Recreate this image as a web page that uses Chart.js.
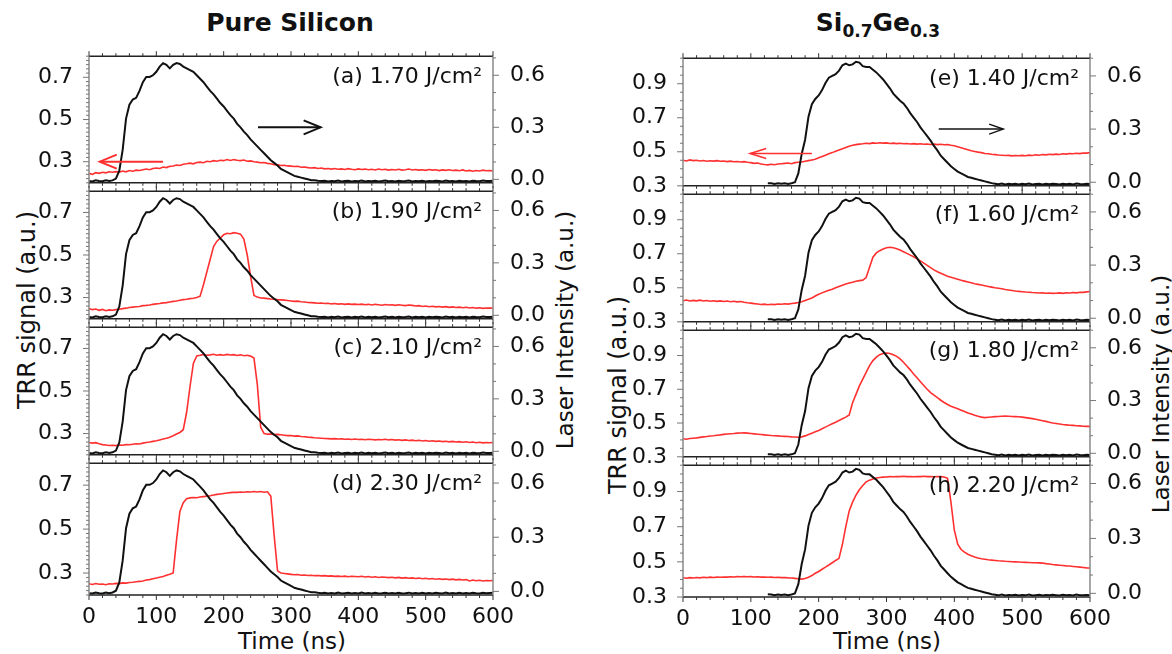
<!DOCTYPE html>
<html>
<head>
<meta charset="utf-8">
<script src="https://cdn.jsdelivr.net/npm/chart.js@4.4.1/dist/chart.umd.min.js"></script>
<style>
  html, body { margin: 0; padding: 0; background: #fff; }
  #fig { position: relative; width: 1172px; height: 654px; overflow: hidden;
         font-family: "DejaVu Sans", sans-serif; color: #111; }
  .panel { position: absolute; }
  .lbl { position: absolute; white-space: nowrap; transform: translate(-50%, -50%); line-height: 1; }
  .rot { transform: translate(-50%, -50%) rotate(-90deg); }
  .title { font-weight: bold; font-size: 25px; }
  .title sub { font-size: 17px; vertical-align: -6px; line-height: 0; }
  .ax { font-size: 23px; }
</style>
</head>
<body>
<div id="fig">
  <div class="lbl title" style="left:290px;top:22px">Pure Silicon</div>
  <div class="lbl title" style="left:878px;top:22px">Si<sub>0.7</sub>Ge<sub>0.3</sub></div>
  <div class="lbl rot ax" style="left:27px;top:310px;font-size:24px">TRR signal (a.u.)</div>
  <div class="lbl rot ax" style="left:565px;top:330px">Laser Intensity (a.u.)</div>
  <div class="lbl rot ax" style="left:618px;top:395px;font-size:24px">TRR signal (a.u.)</div>
  <div class="lbl rot ax" style="left:1161px;top:394px">Laser Intensity (a.u.)</div>
  <div class="lbl ax" style="left:292px;top:641px">Time (ns)</div>
  <div class="lbl ax" style="left:887px;top:641px">Time (ns)</div>
</div>
<script>
// time axis (ns), 5 ns steps
const timeNs = [
  0, 5, 10, 15, 20, 25, 30, 35, 40, 45,
  50, 55, 60, 65, 70, 75, 80, 85, 90, 95,
  100, 105, 110, 115, 120, 125, 130, 135, 140, 145,
  150, 155, 160, 165, 170, 175, 180, 185, 190, 195,
  200, 205, 210, 215, 220, 225, 230, 235, 240, 245,
  250, 255, 260, 265, 270, 275, 280, 285, 290, 295,
  300, 305, 310, 315, 320, 325, 330, 335, 340, 345,
  350, 355, 360, 365, 370, 375, 380, 385, 390, 395,
  400, 405, 410, 415, 420, 425, 430, 435, 440, 445,
  450, 455, 460, 465, 470, 475, 480, 485, 490, 495,
  500, 505, 510, 515, 520, 525, 530, 535, 540, 545,
  550, 555, 560, 565, 570, 575, 580, 585, 590, 595,
  600
];

// laser pulse (right axis), pure Si panels
const laserSi = [
  -0.010, -0.012, -0.006, -0.010, -0.011, -0.006, -0.010, -0.006, 0.004, 0.050,
  0.170, 0.350, 0.430, 0.460, 0.470, 0.510, 0.560, 0.590, 0.590, 0.600,
  0.620, 0.650, 0.670, 0.660, 0.640, 0.660, 0.670, 0.665, 0.650, 0.640,
  0.630, 0.620, 0.600, 0.580, 0.560, 0.535, 0.510, 0.490, 0.465, 0.440,
  0.420, 0.395, 0.370, 0.350, 0.320, 0.300, 0.275, 0.255, 0.230, 0.210,
  0.190, 0.170, 0.150, 0.130, 0.110, 0.095, 0.080, 0.060, 0.050, 0.040,
  0.030, 0.020, 0.015, 0.010, 0.005, 0.000, -0.005, -0.005, -0.008, -0.010,
  -0.008, -0.012, -0.009, -0.011, -0.007, -0.012, -0.010, -0.008, -0.012, -0.009,
  -0.011, -0.007, -0.012, -0.009, -0.011, -0.008, -0.012, -0.010, -0.007, -0.011,
  -0.009, -0.012, -0.008, -0.011, -0.010, -0.007, -0.012, -0.009, -0.011, -0.008,
  -0.012, -0.009, -0.011, -0.008, -0.010, -0.012, -0.007, -0.011, -0.009, -0.012,
  -0.008, -0.011, -0.009, -0.012, -0.008, -0.010, -0.011, -0.007, -0.010, -0.009,
  -0.008
];

// laser pulse (right axis), SiGe panels - recorded from 125 ns
const laserSiGe = [
  null, null, null, null, null, null, null, null, null, null,
  null, null, null, null, null, null, null, null, null, null,
  null, null, null, null, null, -0.005, -0.006, -0.010, -0.006, -0.009,
  -0.006, -0.010, -0.006, 0.000, 0.050, 0.160, 0.240, 0.370, 0.440, 0.470,
  0.490, 0.520, 0.560, 0.590, 0.600, 0.610, 0.630, 0.660, 0.670, 0.660,
  0.665, 0.680, 0.675, 0.655, 0.650, 0.650, 0.635, 0.620, 0.600, 0.580,
  0.555, 0.530, 0.500, 0.480, 0.460, 0.445, 0.420, 0.390, 0.365, 0.340,
  0.310, 0.285, 0.260, 0.235, 0.205, 0.180, 0.150, 0.130, 0.110, 0.090,
  0.075, 0.060, 0.050, 0.040, 0.030, 0.025, 0.020, 0.015, 0.010, 0.005,
  0.000, -0.005, -0.008, -0.011, -0.007, -0.012, -0.009, -0.011, -0.008, -0.012,
  -0.009, -0.011, -0.007, -0.012, -0.010, -0.008, -0.012, -0.009, -0.011, -0.008,
  -0.010, -0.012, -0.008, -0.011, -0.009, -0.012, -0.007, -0.010, -0.011, -0.009,
  -0.010
];

// TRR signal (left axis)
const trrA = [
  0.245, 0.240, 0.248, 0.245, 0.250, 0.247, 0.252, 0.250, 0.253, 0.250,
  0.256, 0.252, 0.258, 0.255, 0.260, 0.258, 0.262, 0.265, 0.262, 0.268,
  0.270, 0.268, 0.275, 0.272, 0.278, 0.280, 0.284, 0.282, 0.288, 0.290,
  0.293, 0.290, 0.296, 0.298, 0.295, 0.302, 0.300, 0.305, 0.302, 0.307,
  0.305, 0.310, 0.306, 0.310, 0.307, 0.305, 0.308, 0.302, 0.304, 0.300,
  0.298, 0.295, 0.296, 0.292, 0.290, 0.286, 0.285, 0.282, 0.283, 0.280,
  0.279, 0.277, 0.278, 0.274, 0.275, 0.272, 0.270, 0.272, 0.268, 0.270,
  0.266, 0.268, 0.265, 0.268, 0.264, 0.266, 0.263, 0.267, 0.264, 0.262,
  0.266, 0.263, 0.265, 0.262, 0.264, 0.261, 0.265, 0.262, 0.264, 0.260,
  0.263, 0.261, 0.264, 0.260, 0.262, 0.265, 0.261, 0.263, 0.260, 0.262,
  0.259, 0.263, 0.260, 0.262, 0.258, 0.261, 0.259, 0.262, 0.258, 0.260,
  0.257, 0.261, 0.256, 0.259, 0.255, 0.258, 0.256, 0.260, 0.257, 0.258,
  0.256
];
const trrB = [
  0.248, 0.243, 0.246, 0.240, 0.244, 0.238, 0.242, 0.240, 0.243, 0.245,
  0.248, 0.250, 0.253, 0.255, 0.257, 0.258, 0.262, 0.263, 0.265, 0.268,
  0.270, 0.272, 0.275, 0.276, 0.279, 0.282, 0.284, 0.287, 0.290, 0.292,
  0.295, 0.297, 0.300, 0.306, 0.360, 0.420, 0.480, 0.540, 0.565, 0.580,
  0.595, 0.602, 0.600, 0.605, 0.602, 0.598, 0.575, 0.500, 0.400, 0.310,
  0.302, 0.298, 0.297, 0.295, 0.293, 0.292, 0.290, 0.289, 0.288, 0.286,
  0.284, 0.282, 0.283, 0.280, 0.279, 0.277, 0.276, 0.275, 0.273, 0.274,
  0.272, 0.273, 0.270, 0.272, 0.269, 0.271, 0.268, 0.270, 0.268, 0.269,
  0.267, 0.269, 0.266, 0.268, 0.265, 0.268, 0.266, 0.264, 0.267, 0.265,
  0.266, 0.263, 0.266, 0.264, 0.262, 0.265, 0.263, 0.260, 0.262, 0.258,
  0.260, 0.257, 0.259, 0.256, 0.258, 0.255, 0.257, 0.254, 0.256, 0.253,
  0.255, 0.252, 0.254, 0.251, 0.253, 0.250, 0.252, 0.249, 0.251, 0.250,
  0.251
];
const trrC = [
  0.258, 0.255, 0.257, 0.252, 0.248, 0.246, 0.244, 0.245, 0.243, 0.246,
  0.245, 0.248, 0.247, 0.250, 0.252, 0.251, 0.255, 0.258, 0.260, 0.263,
  0.266, 0.270, 0.274, 0.278, 0.283, 0.290, 0.298, 0.305, 0.318, 0.400,
  0.520, 0.630, 0.665, 0.668, 0.672, 0.668, 0.670, 0.673, 0.668, 0.671,
  0.668, 0.672, 0.669, 0.671, 0.667, 0.670, 0.666, 0.668, 0.664, 0.655,
  0.530, 0.330, 0.300, 0.297, 0.298, 0.295, 0.296, 0.294, 0.292, 0.290,
  0.291, 0.288, 0.289, 0.286, 0.285, 0.283, 0.282, 0.280, 0.279, 0.278,
  0.277, 0.276, 0.275, 0.276, 0.274, 0.275, 0.273, 0.274, 0.272, 0.274,
  0.272, 0.273, 0.271, 0.273, 0.272, 0.270, 0.272, 0.271, 0.273, 0.270,
  0.272, 0.269, 0.271, 0.268, 0.270, 0.267, 0.269, 0.266, 0.268, 0.265,
  0.267, 0.264, 0.266, 0.263, 0.265, 0.262, 0.264, 0.261, 0.263, 0.260,
  0.262, 0.259, 0.261, 0.258, 0.260, 0.257, 0.259, 0.256, 0.258, 0.257,
  0.258
];
const trrD = [
  0.251, 0.248, 0.252, 0.249, 0.250, 0.247, 0.251, 0.250, 0.253, 0.252,
  0.255, 0.254, 0.257, 0.258, 0.260, 0.262, 0.264, 0.268, 0.270, 0.274,
  0.277, 0.281, 0.284, 0.290, 0.294, 0.300, 0.450, 0.580, 0.620, 0.638,
  0.642, 0.644, 0.643, 0.646, 0.648, 0.650, 0.652, 0.655, 0.658, 0.660,
  0.662, 0.664, 0.666, 0.668, 0.667, 0.669, 0.668, 0.670, 0.669, 0.671,
  0.669, 0.671, 0.668, 0.670, 0.650, 0.470, 0.310, 0.300, 0.298, 0.296,
  0.294, 0.292, 0.293, 0.290, 0.291, 0.289, 0.290, 0.288, 0.289, 0.287,
  0.288, 0.286, 0.287, 0.285, 0.286, 0.284, 0.286, 0.283, 0.285, 0.284,
  0.283, 0.285, 0.282, 0.284, 0.281, 0.283, 0.280, 0.282, 0.281, 0.279,
  0.281, 0.278, 0.280, 0.277, 0.279, 0.276, 0.278, 0.275, 0.277, 0.274,
  0.276, 0.273, 0.275, 0.272, 0.274, 0.271, 0.273, 0.270, 0.272, 0.269,
  0.271, 0.268, 0.270, 0.264, 0.268, 0.265, 0.267, 0.264, 0.266, 0.265,
  0.266
];
const trrE = [
  0.450, 0.446, 0.452, 0.448, 0.450, 0.446, 0.449, 0.444, 0.447, 0.445,
  0.448, 0.444, 0.446, 0.442, 0.445, 0.441, 0.443, 0.440, 0.442, 0.438,
  0.436, 0.432, 0.434, 0.428, 0.425, 0.423, 0.427, 0.424, 0.428, 0.430,
  0.432, 0.434, 0.430, 0.436, 0.438, 0.440, 0.444, 0.448, 0.452, 0.456,
  0.465, 0.472, 0.480, 0.488, 0.495, 0.503, 0.510, 0.518, 0.525, 0.532,
  0.538, 0.542, 0.545, 0.547, 0.550, 0.548, 0.552, 0.550, 0.553, 0.551,
  0.552, 0.549, 0.551, 0.548, 0.550, 0.547, 0.549, 0.546, 0.548, 0.545,
  0.547, 0.544, 0.546, 0.543, 0.545, 0.542, 0.544, 0.541, 0.543, 0.538,
  0.535, 0.530, 0.524, 0.518, 0.512, 0.506, 0.502, 0.498, 0.495, 0.490,
  0.488, 0.485, 0.483, 0.481, 0.480, 0.478, 0.479, 0.476, 0.478, 0.477,
  0.479, 0.477, 0.480, 0.478, 0.482, 0.480, 0.484, 0.482, 0.485, 0.483,
  0.486, 0.484, 0.488, 0.486, 0.490, 0.488, 0.491, 0.489, 0.493, 0.492,
  0.495
];
const trrF = [
  0.424, 0.428, 0.422, 0.426, 0.423, 0.427, 0.422, 0.425, 0.421, 0.424,
  0.420, 0.423, 0.419, 0.422, 0.418, 0.421, 0.417, 0.419, 0.415, 0.412,
  0.410, 0.407, 0.405, 0.402, 0.404, 0.400, 0.403, 0.401, 0.405, 0.403,
  0.406, 0.404, 0.408, 0.410, 0.413, 0.418, 0.425, 0.432, 0.440, 0.452,
  0.462, 0.470, 0.478, 0.485, 0.492, 0.500, 0.508, 0.515, 0.522, 0.528,
  0.533, 0.538, 0.542, 0.545, 0.560, 0.620, 0.680, 0.705, 0.718, 0.728,
  0.735, 0.738, 0.735, 0.730, 0.722, 0.712, 0.702, 0.692, 0.682, 0.670,
  0.658, 0.645, 0.632, 0.618, 0.605, 0.594, 0.585, 0.576, 0.568, 0.562,
  0.556, 0.550, 0.544, 0.539, 0.534, 0.529, 0.524, 0.520, 0.516, 0.512,
  0.508, 0.504, 0.500, 0.497, 0.494, 0.490, 0.487, 0.484, 0.481, 0.479,
  0.477, 0.475, 0.474, 0.472, 0.471, 0.469, 0.470, 0.468, 0.469, 0.467,
  0.468, 0.470, 0.467, 0.471, 0.469, 0.472, 0.470, 0.474, 0.473, 0.476,
  0.478
];
const trrG = [
  0.407, 0.404, 0.408, 0.410, 0.412, 0.415, 0.418, 0.420, 0.423, 0.425,
  0.428, 0.430, 0.433, 0.435, 0.437, 0.438, 0.440, 0.441, 0.442, 0.440,
  0.438, 0.436, 0.434, 0.432, 0.430, 0.428, 0.426, 0.425, 0.424, 0.422,
  0.421, 0.420, 0.418, 0.417, 0.416, 0.418, 0.424, 0.432, 0.440, 0.448,
  0.456, 0.466, 0.476, 0.486, 0.496, 0.505, 0.515, 0.525, 0.535, 0.548,
  0.620, 0.670, 0.720, 0.760, 0.800, 0.840, 0.870, 0.890, 0.905, 0.912,
  0.915, 0.912, 0.905, 0.895, 0.880, 0.860, 0.838, 0.815, 0.790, 0.768,
  0.745, 0.722, 0.700, 0.680, 0.665, 0.650, 0.635, 0.622, 0.610, 0.600,
  0.592, 0.584, 0.576, 0.568, 0.560, 0.553, 0.546, 0.540, 0.535, 0.532,
  0.534, 0.536, 0.538, 0.539, 0.540, 0.541, 0.540, 0.539, 0.538, 0.537,
  0.535, 0.532, 0.529, 0.526, 0.522, 0.518, 0.514, 0.510, 0.505, 0.500,
  0.497, 0.494, 0.491, 0.489, 0.487, 0.486, 0.484, 0.483, 0.481, 0.480,
  0.480
];
const trrH = [
  0.410, 0.407, 0.410, 0.408, 0.411, 0.409, 0.412, 0.410, 0.413, 0.411,
  0.413, 0.412, 0.414, 0.413, 0.415, 0.414, 0.416, 0.415, 0.417, 0.415,
  0.416, 0.414, 0.415, 0.413, 0.414, 0.412, 0.413, 0.411, 0.412, 0.410,
  0.411, 0.409, 0.408, 0.406, 0.404, 0.402, 0.405, 0.412, 0.422, 0.435,
  0.445, 0.458, 0.470, 0.482, 0.495, 0.508, 0.520, 0.600, 0.700, 0.790,
  0.840, 0.880, 0.910, 0.935, 0.955, 0.965, 0.972, 0.977, 0.980, 0.982,
  0.983, 0.985, 0.984, 0.986, 0.985, 0.987, 0.985, 0.986, 0.984, 0.986,
  0.985, 0.987, 0.985, 0.986, 0.984, 0.986, 0.985, 0.983, 0.975, 0.840,
  0.680, 0.600, 0.570, 0.555, 0.543, 0.535, 0.528, 0.522, 0.518, 0.515,
  0.512, 0.510, 0.508, 0.506, 0.505, 0.503, 0.502, 0.501, 0.500, 0.499,
  0.498, 0.497, 0.496, 0.495, 0.495, 0.494, 0.493, 0.490, 0.488, 0.485,
  0.483, 0.481, 0.479, 0.477, 0.476, 0.474, 0.472, 0.470, 0.468, 0.466,
  0.465
];

const timeTicks = [0, 100, 200, 300, 400, 500, 600];
const siTrrTicks = [0.3, 0.5, 0.7];
const sgTrrTicks = [0.3, 0.5, 0.7, 0.9];
const laserTicks = [0.0, 0.3, 0.6];
const labels = ['(a) 1.70 J/cm²', '(b) 1.90 J/cm²', '(c) 2.10 J/cm²', '(d) 2.30 J/cm²',
                '(e) 1.40 J/cm²', '(f) 1.60 J/cm²', '(g) 1.80 J/cm²', '(h) 2.20 J/cm²'];

// arrows (data coordinates): which axis, value, from -> to (ns)
const arrowsSi = [
  { axis: 'yL', y: 0.30, from: 110, to: 16, color: '#ff3030', width: 2, head: 17, spread: 7 },
  { axis: 'yR', y: 0.30, from: 251, to: 344, color: '#111', width: 2, head: 17, spread: 7 }
];
const arrowsSg = [
  { axis: 'yL', y: 0.49, from: 190, to: 99, color: '#ff3030', width: 1.5, head: 16, spread: 5 },
  { axis: 'yR', y: 0.30, from: 377, to: 472, color: '#111', width: 1.5, head: 14, spread: 5 }
];

// layout of the two groups (plot rectangles in px)
const GROUPS = {
  si: { x0: 89, x1: 493, rows: [[52, 187], [187, 323], [323, 459], [459, 595]],
        trrMin: 0.2, trrMax: 0.8, trrTicks: siTrrTicks, trrMinor: 0.02,
        lasMin: -0.02, lasMax: 0.71, arrows: arrowsSi },
  sg: { x0: 683, x1: 1090, rows: [[54, 190], [190, 326], [326, 461], [461, 597]],
        trrMin: 0.3, trrMax: 1.05, trrTicks: sgTrrTicks, trrMinor: 0.05,
        lasMin: -0.02, lasMax: 0.70, arrows: arrowsSg }
};
const M = { side: 80, top: 18, bottom: 18, xAxis: 42 };
const FONT = { family: '"DejaVu Sans", sans-serif', size: 22 };
const RED = '#ff3030';

const panels = [
  { group: 'si', row: 0, trr: trrA, laser: laserSi, label: labels[0] },
  { group: 'si', row: 1, trr: trrB, laser: laserSi, label: labels[1] },
  { group: 'si', row: 2, trr: trrC, laser: laserSi, label: labels[2] },
  { group: 'si', row: 3, trr: trrD, laser: laserSi, label: labels[3] },
  { group: 'sg', row: 0, trr: trrE, laser: laserSiGe, label: labels[4] },
  { group: 'sg', row: 1, trr: trrF, laser: laserSiGe, label: labels[5] },
  { group: 'sg', row: 2, trr: trrG, laser: laserSiGe, label: labels[6] },
  { group: 'sg', row: 3, trr: trrH, laser: laserSiGe, label: labels[7] }
];

function pts(values) {
  return timeNs.map((t, i) => ({ x: t, y: values[i] }));
}

function seg(ctx, x0, y0, x1, y1) {
  ctx.beginPath(); ctx.moveTo(x0, y0); ctx.lineTo(x1, y1); ctx.stroke();
}

// frame, minor ticks, panel label and arrows
const panelDeco = {
  id: 'panelDeco',
  afterDraw(chart, args, o) {
    const { ctx, chartArea: a, scales } = chart;
    const x = scales.x;
    ctx.save();
    ctx.lineWidth = 1.5;
    ctx.strokeStyle = '#222';
    seg(ctx, a.left, a.top, a.right, a.top);
    seg(ctx, a.left, a.bottom, a.right, a.bottom);
    ctx.strokeStyle = '#8a8a8a';
    seg(ctx, a.left, a.top, a.left, a.bottom);
    seg(ctx, a.right, a.top, a.right, a.bottom);

    ctx.lineWidth = 1;
    ctx.strokeStyle = '#333';
    for (let t = 0; t <= 600; t += 20) {
      const px = x.getPixelForValue(t);
      const len = t % 100 === 0 ? 5 : 3;
      seg(ctx, px, a.top, px, a.top - len);
      seg(ctx, px, a.bottom, px, a.bottom + len);
    }
    ctx.strokeStyle = '#777';
    const yl = scales.yL;
    for (let k = Math.ceil(yl.min / o.trrMinor - 1e-6); k * o.trrMinor <= yl.max + 1e-9; k++) {
      const v = k * o.trrMinor;
      const major = o.trrTicks.some(m => Math.abs(m - v) < 1e-6);
      const py = yl.getPixelForValue(v);
      seg(ctx, a.left, py, a.left - (major ? 6 : 3), py);
    }
    const yr = scales.yR;
    for (let k = Math.ceil(yr.min / 0.1 - 1e-6); k * 0.1 <= yr.max + 1e-9; k++) {
      const v = k * 0.1;
      const major = laserTicks.some(m => Math.abs(m - v) < 1e-6);
      const py = yr.getPixelForValue(v);
      seg(ctx, a.right, py, a.right + (major ? 6 : 3), py);
    }

    ctx.fillStyle = '#111';
    ctx.font = '22px "DejaVu Sans", sans-serif';
    ctx.textAlign = 'right';
    ctx.textBaseline = 'middle';
    ctx.fillText(o.label, a.right - 11, a.top + 21);

    for (const ar of o.arrows) {
      const py = scales[ar.axis].getPixelForValue(ar.y);
      const p0 = x.getPixelForValue(ar.from);
      const p1 = x.getPixelForValue(ar.to);
      const dir = Math.sign(p1 - p0);
      ctx.strokeStyle = ar.color;
      ctx.lineWidth = ar.width;
      seg(ctx, p0, py, p1, py);
      ctx.beginPath();
      ctx.moveTo(p1 - dir * ar.head, py - ar.spread);
      ctx.lineTo(p1, py);
      ctx.lineTo(p1 - dir * ar.head, py + ar.spread);
      ctx.stroke();
    }
    ctx.restore();
  }
};

const fig = document.getElementById('fig');

panels.forEach((p, idx) => {
  const g = GROUPS[p.group];
  const [top, bottom] = g.rows[p.row];
  const isBottom = p.row === 3;
  const w = (g.x1 - g.x0) + 2 * M.side;
  const h = (bottom - top) + M.top + (isBottom ? M.xAxis : M.bottom);

  const box = document.createElement('div');
  box.className = 'panel';
  box.style.left = (g.x0 - M.side) + 'px';
  box.style.top = (top - M.top) + 'px';
  const cv = document.createElement('canvas');
  cv.width = w; cv.height = h;
  box.appendChild(cv);
  fig.appendChild(box);

  new Chart(cv, {
    type: 'line',
    data: {
      datasets: [
        { data: pts(p.laser), yAxisID: 'yR', borderColor: '#111', borderWidth: 2,
          pointRadius: 0, tension: 0, spanGaps: false },
        { data: pts(p.trr), yAxisID: 'yL', borderColor: RED, borderWidth: 1.6,
          pointRadius: 0, tension: 0 }
      ]
    },
    options: {
      responsive: false,
      animation: false,
      events: [],
      layout: { padding: { left: 0, right: 0, top: M.top, bottom: isBottom ? 0 : M.bottom } },
      plugins: {
        legend: { display: false },
        tooltip: { enabled: false },
        panelDeco: { label: p.label, arrows: idx % 4 === 0 ? g.arrows : [],
                     trrTicks: g.trrTicks, trrMinor: g.trrMinor }
      },
      scales: {
        x: {
          type: 'linear', min: 0, max: 600, display: isBottom,
          afterBuildTicks: s => { s.ticks = timeTicks.map(v => ({ value: v })); },
          afterFit: s => { s.height = isBottom ? M.xAxis : 0; },
          grid: { display: false }, border: { display: false },
          ticks: { font: FONT, color: '#111', padding: 1, maxRotation: 0, autoSkip: false }
        },
        yL: {
          type: 'linear', position: 'left', min: g.trrMin, max: g.trrMax,
          afterBuildTicks: s => { s.ticks = g.trrTicks.map(v => ({ value: v })); },
          afterFit: s => { s.width = M.side; },
          grid: { display: false }, border: { display: false },
          ticks: { font: FONT, color: '#111', padding: 8, callback: v => v.toFixed(1) }
        },
        yR: {
          type: 'linear', position: 'right', min: g.lasMin, max: g.lasMax,
          afterBuildTicks: s => { s.ticks = laserTicks.map(v => ({ value: v })); },
          afterFit: s => { s.width = M.side; },
          grid: { display: false }, border: { display: false },
          ticks: { font: FONT, color: '#111', padding: 9, callback: v => v.toFixed(1) }
        }
      }
    },
    plugins: [panelDeco]
  });
});
</script>
</body>
</html>
